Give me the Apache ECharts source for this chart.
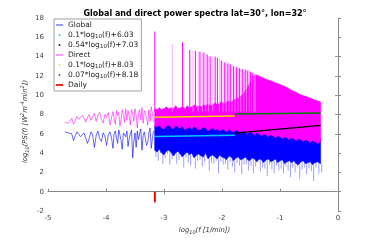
<!DOCTYPE html>
<html><head><meta charset="utf-8">
<script src="https://cdn.jsdelivr.net/npm/echarts@6/dist/echarts.min.js"></script>
<style>html,body{margin:0;padding:0;background:#fff}#c{width:374px;height:240px}</style>
</head><body><div id="c"></div>
<script>
// ---- data ----
const xTickValues = [-5, -4, -3, -2, -1, 0];
const yTickValues = [-2, 0, 2, 4, 6, 8, 10, 12, 14, 16, 18];

// sparse low-frequency part (log10 f, log10 PS)
const sparseX = [
  -4.71,-4.68,-4.65,-4.62,-4.59,-4.56,-4.53,-4.50,
  -4.47,-4.44,-4.41,-4.38,-4.35,-4.32,-4.29,-4.26,
  -4.23,-4.20,-4.17,-4.14,-4.11,-4.08,-4.05,-4.02,
  -3.99,-3.96,-3.93,-3.90,-3.88,-3.86,-3.84,-3.82,
  -3.80,-3.78,-3.76,-3.74,-3.72,-3.70,-3.68,-3.66,
  -3.64,-3.62,-3.60,-3.58,-3.56,-3.54,-3.52,-3.50,
  -3.48,-3.46,-3.44,-3.42,-3.40,-3.38,-3.36,-3.34,
  -3.32,-3.30,-3.28,-3.26,-3.24,-3.22,-3.20,-3.18];
const directSparse = [
  7.2,7.4,7.1,7.3,7.6,7.0,7.2,7.8,
  7.5,7.3,7.9,7.6,7.2,7.7,8.0,7.4,
  7.6,8.1,7.3,7.9,8.2,7.5,7.1,8.0,
  7.7,8.2,6.9,7.8,8.3,7.6,7.0,8.4,
  7.9,8.2,6.8,7.5,8.5,8.0,7.2,8.6,
  7.4,8.4,7.8,6.9,8.5,8.1,7.3,8.6,
  7.9,6.6,8.2,8.5,7.4,8.7,7.1,8.4,
  8.6,7.7,6.9,8.5,7.3,8.8,8.1,7.2];
const globalSparse = [
  6.2,6.3,6.1,6.1,6.0,5.3,5.8,6.2,
  6.0,5.7,5.5,6.1,5.9,5.0,5.5,6.2,
  5.9,4.6,5.8,6.3,5.5,5.2,6.1,5.8,
  4.8,5.9,6.2,5.4,4.5,6.0,6.3,5.6,
  5.0,6.4,5.9,5.3,4.4,6.1,6.2,5.7,
  6.3,4.7,5.5,6.0,6.4,3.5,5.2,6.1,
  4.6,6.3,5.4,6.0,6.5,4.3,5.8,6.2,
  6.4,4.8,5.1,6.1,6.6,4.5,5.5,6.3];

// dense high-frequency part: per-bin extent of the spectra
const denseX = [
  -3.16,-3.12,-3.08,-3.04,-3.00,-2.96,-2.92,-2.88,-2.84,-2.80,
  -2.76,-2.72,-2.68,-2.64,-2.60,-2.56,-2.52,-2.48,-2.44,-2.40,
  -2.36,-2.32,-2.28,-2.24,-2.20,-2.16,-2.12,-2.08,-2.04,-2.00,
  -1.96,-1.92,-1.88,-1.84,-1.80,-1.76,-1.72,-1.68,-1.64,-1.60,
  -1.56,-1.52,-1.48,-1.44,-1.40,-1.36,-1.32,-1.28,-1.24,-1.20,
  -1.16,-1.12,-1.08,-1.04,-1.00,-0.96,-0.92,-0.88,-0.84,-0.80,
  -0.76,-0.72,-0.68,-0.64,-0.60,-0.56,-0.52,-0.48,-0.44,-0.40,
  -0.35,-0.30];
const globalHi = [
  6.9,7.0,6.8,7.1,6.9,6.8,7.0,6.9,7.1,6.8,
  6.9,7.0,6.8,6.9,7.0,6.8,6.9,6.7,6.9,6.8,
  6.9,6.7,6.8,6.9,6.7,6.8,6.6,6.8,6.7,6.7,
  6.6,6.7,6.5,6.6,6.6,6.4,6.6,6.5,6.4,6.5,
  6.3,6.4,6.3,6.2,6.4,6.2,6.3,6.1,6.2,6.2,
  6.1,6.0,6.1,6.0,6.0,5.9,6.0,5.8,5.9,5.9,
  5.8,5.8,5.7,5.8,5.7,5.6,5.7,5.6,5.6,5.5,
  5.5,5.5];
const globalLo = [
  4.3,4.1,4.4,4.0,3.8,4.2,4.3,4.1,3.7,4.0,
  4.2,3.9,3.6,3.9,4.1,3.8,4.0,3.5,3.8,3.9,
  3.7,3.6,4.0,3.4,3.7,3.8,3.6,3.4,3.8,3.6,
  3.5,3.3,3.7,3.6,3.2,3.5,3.6,3.3,3.4,3.6,
  3.3,3.2,3.5,3.4,3.1,3.4,3.3,3.0,3.3,3.4,
  3.1,3.2,3.4,3.0,3.2,3.3,2.9,3.1,3.2,3.0,
  3.2,2.9,2.8,3.1,3.2,2.9,3.0,3.1,2.8,3.0,
  3.1,2.9];
const globalMin = [
  3.6,3.2,4.0,2.9,3.5,3.9,2.8,3.4,3.8,2.9,
  3.3,3.6,2.5,3.5,3.0,2.7,3.6,2.4,3.2,3.3,
  2.6,3.1,3.5,2.2,3.0,2.9,3.2,1.9,3.1,2.8,
  2.9,2.3,3.1,2.6,2.0,3.0,2.7,1.8,2.8,2.9,
  2.2,2.7,1.9,2.6,3.0,2.1,2.5,2.4,1.6,2.8,
  2.3,1.9,2.7,2.2,2.4,1.9,2.6,2.2,1.5,2.5,
  2.0,2.6,1.3,2.3,2.5,1.8,2.4,2.1,1.1,2.5,
  1.9,2.0];
const directLo = [
  6.8,6.7,6.9,6.6,6.5,6.8,6.9,6.7,6.5,6.9,
  6.7,6.6,6.8,6.4,6.6,6.7,6.5,6.8,6.6,6.4,
  6.5,6.7,6.6,6.3,6.5,6.6,6.4,6.5,6.3,6.5,
  6.4,6.2,6.5,6.3,6.2,6.4,6.3,6.1,6.3,6.2,
  6.0,6.2,6.1,5.9,6.1,6.0,5.8,6.0,5.9,5.7,
  5.9,5.8,5.6,5.8,5.7,5.5,5.7,5.6,5.4,5.6,
  5.5,5.3,5.5,5.4,5.2,5.4,5.3,5.1,5.3,5.2,
  5.0,5.2];
const directHi = [
  8.6,8.5,8.7,8.5,8.6,8.8,8.6,8.7,8.6,8.9,
  8.6,8.7,8.8,8.6,8.9,8.7,8.8,9.0,8.8,8.9,
  8.8,9.0,8.9,9.1,8.9,9.0,9.2,9.0,9.2,9.3,
  9.1,9.3,9.4,9.3,9.5,9.6,9.7,9.9,10.1,10.4,
  10.8,11.3,11.8,12.1,12.1,12.0,11.85,11.75,11.65,11.55,
  11.5,11.4,11.3,11.2,11.1,11.0,10.9,10.8,10.65,10.5,
  10.4,10.3,10.15,10.05,9.95,9.9,9.8,9.7,9.6,9.5,
  9.4,9.3];

// daily harmonic peaks of the direct spectrum
const spikeX = [-3.158,-2.68,-2.556,-2.459,-2.38,-2.313,-2.255,-2.204,-2.118,-2.079,
  -2.012,-1.953,-1.899,-1.857,-1.80,-1.748,-1.70,-1.65,-1.60,-1.556,-1.51,-1.477];
const spikeY = [16.6,15.5,14.7,14.6,14.5,14.4,14.2,14.0,14.0,13.9,
  13.6,13.4,13.3,13.2,13.0,12.9,12.8,12.7,12.65,12.55,12.45,12.3];
const faintSpikeX = [-2.857,-2.50,-2.41,-2.34,-2.28,-2.23,-2.158,-2.045,-1.982,-1.93,
  -1.877,-1.83,-1.775,-1.725,-1.675,-1.625,-1.58,-1.53,-1.49,-1.45,-1.43];
const faintSpikeY = [15.3,14.6,14.5,14.45,14.3,14.1,14.0,13.8,13.5,13.35,
  13.25,13.1,12.95,12.85,12.75,12.7,12.6,12.5,12.4,12.3,12.2];
const spikeBase = 8.3;

// fitted lines
const fitLeftX = [-3.16, -1.78];
const fitRightX = [-1.78, -0.30];
const fitGlobalLeft = [5.71, 5.85];
const fitGlobalRight = [6.07, 6.87];
const fitDirectLeft = [7.71, 7.85];
const fitDirectRight = [8.06, 8.16];

// daily marker
const dailyX = [-3.158, -3.158];
const dailyY = [-1.1, 0.0];

const names = ['Global','0.1*log10(f)+6.03','0.54*log10(f)+7.03','Direct','0.1*log10(f)+8.03','0.07*log10(f)+8.18','Daily'];

// ---- chart ----
const zip = (a, b) => a.map((v, i) => [v, b[i]]);
const C = { g:'#0000ff', d:'#ff00ff', cy:'#00c8ff', k:'#000000', y:'#ffd400', gr:'#008000', r:'#ff0000' };

function band(lo, hi, color) {
  return {
    type: 'custom', clip: true, silent: true,
    data: denseX.map((x, i) => [x, lo[i], hi[i]]),
    encode: { x: 0, y: [1, 2] },
    renderItem: function (params, api) {
      if (params.dataIndex !== 0) return null;
      const pts = [];
      for (let i = 0; i < denseX.length; i++) pts.push(api.coord([denseX[i], hi[i]]));
      for (let i = denseX.length - 1; i >= 0; i--) pts.push(api.coord([denseX[i], lo[i]]));
      return { type: 'polygon', shape: { points: pts }, style: { fill: color, stroke: color, lineWidth: 0.6 } };
    }
  };
}
function vlines(data, color, width) {
  return {
    type: 'custom', clip: true, silent: true,
    data: data,
    encode: { x: 0, y: [1, 2] },
    renderItem: function (params, api) {
      const p0 = api.coord([api.value(0), api.value(1)]);
      const p1 = api.coord([api.value(0), api.value(2)]);
      return { type: 'line', shape: { x1: p0[0], y1: p0[1], x2: p1[0], y2: p1[1] }, style: { stroke: color, lineWidth: width } };
    }
  };
}
function line(name, xs, ys, color, width, opacity) {
  return { name: name, type: 'line', data: zip(xs, ys), symbol: 'none', silent: true,
    lineStyle: { color: color, width: width, opacity: opacity == null ? 1 : opacity },
    itemStyle: { color: color }, z: 3 };
}

const chart = echarts.init(document.getElementById('c'), null, { renderer: 'canvas' });
const dotIcon = 'path://M0,0M8,8M3.1,3.1L4.9,3.1L4.9,4.9L3.1,4.9Z';
const lineIcon = 'path://M0,0M8,8M0,3.55L8,3.55L8,4.45L0,4.45Z';
const thickIcon = 'path://M0,0M8,8M0,3.0L8,3.0L8,5.0L0,5.0Z';
const legendColors = [C.g, C.cy, C.k, C.d, C.y, C.gr, C.r];
const legendIcons = [lineIcon, dotIcon, dotIcon, lineIcon, dotIcon, dotIcon, thickIcon];
const nameRich = {
  i: { fontSize: 6.8, fontStyle: 'italic', color: '#333', lineHeight: 10 },
  s: { fontSize: 5, fontStyle: 'italic', verticalAlign: 'bottom', color: '#333' },
  p: { fontSize: 5, fontStyle: 'italic', verticalAlign: 'top', color: '#333' }
};

const option = {
  animation: false,
  backgroundColor: '#fff',
  textStyle: { fontFamily: 'DejaVu Sans' },
  title: {
    text: 'Global and direct power spectra lat=30°, lon=32°',
    left: 190, top: 5, textAlign: 'center',
    textStyle: { fontSize: 8, fontWeight: 'bold', color: '#000', fontFamily: 'DejaVu Sans' }
  },
  legend: {
    orient: 'vertical', left: 54, top: 19,
    padding: [1, 3, 1, 2], itemGap: 0, itemWidth: 7, itemHeight: 8,
    backgroundColor: '#fff', borderColor: '#a0a0a0', borderWidth: 1,
    data: names.map((n, i) => ({ name: n, icon: legendIcons[i], itemStyle: { color: legendColors[i], borderWidth: 0 } })),
    formatter: function (n) { return n.replace('log10', 'log{s|10}'); },
    textStyle: { fontSize: 7.5, color: '#222', lineHeight: 10,
      rich: { s: { fontSize: 5.5, verticalAlign: 'bottom', color: '#222' } } }
  },
  grid: { left: 48, right: 36, top: 18, bottom: 27 },
  xAxis: [{
    type: 'value', min: -5, max: 0, interval: 1,
    name: '{i|log}{s|10}{i|(f [1/min])}', nameLocation: 'middle', nameGap: 14, nameMoveOverlap: false,
    nameTextStyle: { color: '#333', fontSize: 6.8, fontStyle: 'italic', lineHeight: 10, align: 'center',
      padding: [0, 0, 0, 23], rich: nameRich },
    axisLine: { lineStyle: { color: '#888', width: 1 } },
    axisTick: { inside: true, length: 3, lineStyle: { color: '#888' } },
    axisLabel: { fontSize: 7, color: '#444', margin: 4 },
    splitLine: { show: false }
  }, {
    type: 'value', min: -5, max: 0, interval: 1, position: 'top',
    axisLine: { show: false },
    axisTick: { inside: true, length: 3, lineStyle: { color: '#999' }, customValues: [-3] },
    axisLabel: { show: false }, splitLine: { show: false }
  }],
  yAxis: [{
    type: 'value', min: -2, max: 18, interval: 2,
    name: '{i|log}{s|10}{i|(PS(f) [W}{p|2}{i|m}{p|-4}{i|min}{p|2}{i|])}',
    nameLocation: 'middle', nameGap: 18, nameRotate: 90, nameMoveOverlap: false,
    nameTextStyle: { color: '#333', fontSize: 6.8, fontStyle: 'italic', lineHeight: 10, padding: [0, 14, 0, 0], rich: nameRich },
    axisLine: { show: true, lineStyle: { color: '#888', width: 1 } },
    axisTick: { show: true, inside: true, length: 3, lineStyle: { color: '#888' } },
    axisLabel: { fontSize: 7, color: '#444', margin: 4 },
    splitLine: { show: false }
  }, {
    type: 'value', min: -2, max: 18, interval: 2, position: 'right',
    axisLine: { show: false },
    axisTick: { show: true, inside: true, length: 3, lineStyle: { color: '#999' }, customValues: [0, 6, 8, 10, 12, 14] },
    axisLabel: { show: false }, splitLine: { show: false }
  }],
  series: [
    line('Global', sparseX, globalSparse, C.g, 0.8, 0.75),
    band(globalLo, globalHi, C.g),
    vlines(denseX.map((x, i) => [x + 0.02, globalMin[i], globalLo[i]]), 'rgba(40,40,255,0.45)', 1),
    line('Direct', sparseX, directSparse, C.d, 0.8, 0.7),
    band(directLo, directHi, C.d),
    vlines(faintSpikeX.map((x, i) => [x, spikeBase, faintSpikeY[i]]), 'rgba(255,150,255,0.8)', 1),
    vlines(spikeX.map((x, i) => [x, spikeBase, spikeY[i]]), C.d, 1),
    line('0.1*log10(f)+6.03', fitLeftX, fitGlobalLeft, C.cy, 1.5),
    line('0.54*log10(f)+7.03', fitRightX, fitGlobalRight, C.k, 1.3),
    line('0.1*log10(f)+8.03', fitLeftX, fitDirectLeft, C.y, 1.5),
    line('0.07*log10(f)+8.18', fitRightX, fitDirectRight, C.gr, 1.5),
    line('Daily', dailyX, dailyY, C.r, 2)
  ]
};
chart.setOption(option);
</script>
</body></html>
